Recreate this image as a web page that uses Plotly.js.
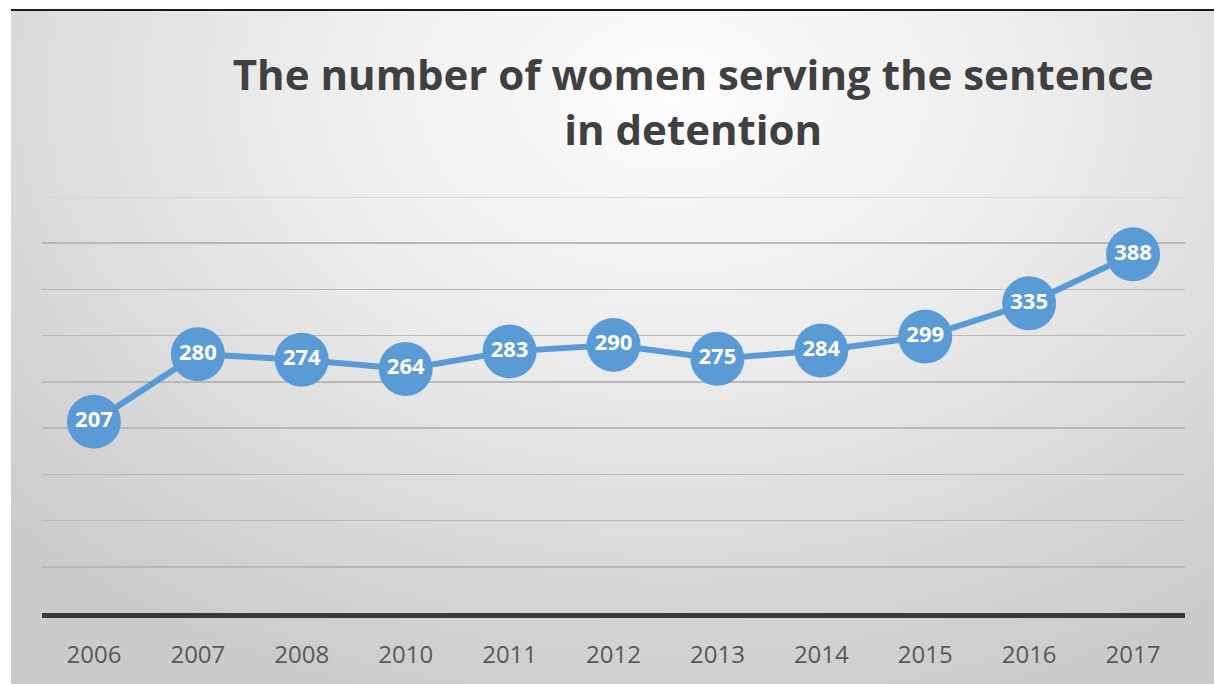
<!DOCTYPE html>
<html>
<head>
<meta charset="utf-8">
<script src="https://cdn.plot.ly/plotly-3.0.1.min.js"></script>
<style>
  html, body { margin: 0; padding: 0; background: #ffffff; width: 1214px; height: 684px; overflow: hidden; }
  #frame {
    position: absolute; left: 11px; top: 9px; width: 1203px; height: 675px;
    border-top: 2px solid #1a1a1a; box-sizing: border-box;
    background: radial-gradient(ellipse 75% 95% at 55% 12%, #fdfdfd 0%, #ebebeb 45%, #d6d6d6 80%, #cbcbcb 100%);
  }
  #chart { position: absolute; left: 0; top: 0; width: 1214px; height: 684px; }
</style>
</head>
<body>
<div id="frame"></div>
<div id="chart"></div>
<script>
const years = ['2006', '2007', '2008', '2010', '2011', '2012', '2013', '2014', '2015', '2016', '2017'];
const women = [207, 280, 274, 264, 283, 290, 275, 284, 299, 335, 388];
const titleText = 'The number of women serving the sentence<br>in detention';
const yMax = 450;

const trace = {
  type: 'scatter',
  mode: 'lines+markers+text',
  x: years,
  y: women,
  text: women.map(String),
  textposition: 'middle center',
  textfont: { family: 'Open Sans, sans-serif', size: 22, color: '#ffffff', weight: 'bold' },
  line: { color: '#5b9bd5', width: 6 },
  marker: { color: '#5b9bd5', size: 54, line: { width: 0 } },
  hoverinfo: 'x+y',
  cliponaxis: false
};

const layout = {
  width: 1214,
  height: 684,
  paper_bgcolor: 'rgba(0,0,0,0)',
  plot_bgcolor: 'rgba(0,0,0,0)',
  margin: { l: 42, r: 29, t: 197, b: 71 },
  showlegend: false,
  title: {
    text: titleText,
    font: { family: 'Open Sans, sans-serif', size: 42, color: '#404040', weight: 'bold' },
    xref: 'container', x: 0.571, xanchor: 'center',
    yref: 'container', y: 0.868, yanchor: 'top'
  },
  xaxis: {
    type: 'category',
    range: [-0.5, 10.5],
    showgrid: false,
    zeroline: false,
    showline: true,
    linecolor: '#3a3a3a',
    linewidth: 5,
    ticks: '',
    ticklabelstandoff: 16,
    tickfont: { family: 'Open Sans, sans-serif', size: 24, color: '#595959' },
    fixedrange: true
  },
  yaxis: {
    range: [0, yMax],
    dtick: 50,
    showgrid: true,
    gridcolor: '#b8b8b8',
    gridwidth: 1.5,
    zeroline: false,
    showticklabels: false,
    ticks: '',
    fixedrange: true
  },
  shapes: [{
    type: 'line', xref: 'paper', yref: 'y', x0: 0, x1: 1, y0: yMax, y1: yMax,
    line: { color: '#d2d2d2', width: 1.5 }, layer: 'below'
  }]
};

Plotly.newPlot('chart', [trace], layout, { displayModeBar: false, staticPlot: true });
</script>
</body>
</html>
